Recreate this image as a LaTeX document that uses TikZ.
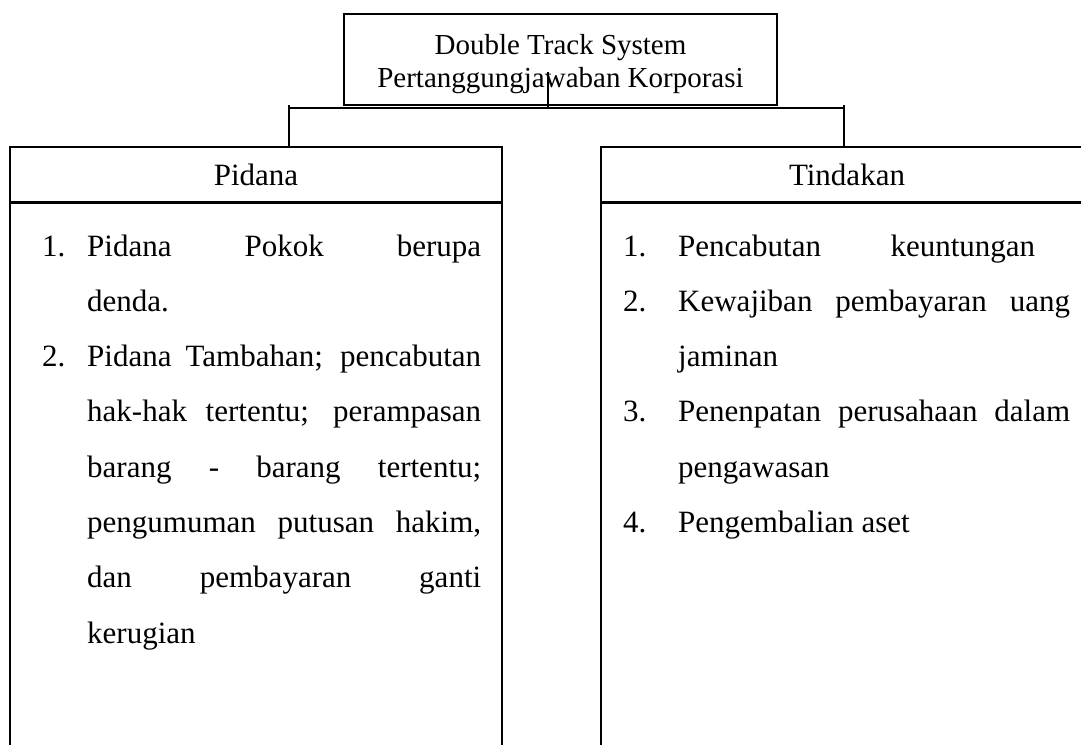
\documentclass[tikz,border=0pt]{standalone}
\usepackage{fontspec}
\setmainfont{Liberation Serif}
\usepackage{tikz}
\usetikzlibrary{positioning}

\tikzset{
  kotak/.style = {draw, line width=1.5pt, inner sep=0pt},
  garis/.style = {line width=1.5pt},
  isi/.style   = {anchor=base west, inner sep=0pt, font=\fontsize{31}{31}\selectfont},
  judul/.style = {font=\fontsize{31}{31}\selectfont}
}

\begin{document}
\begin{tikzpicture}[x=1pt, y=-1pt]
        \useasboundingbox (0,0) rectangle (1081,744);

        % kotak atas
        \node [kotak, minimum width=433pt, minimum height=91pt] (sistem) at (560.5,59.5) {};
        \node [align=center, inner sep=0pt, font=\fontsize{29}{33}\selectfont] (sistemteks) at (560.5,64)
              {Double Track System\\Pertanggungjawaban Korporasi};

        % dua kolom
        \node [kotak, judul, minimum width=492pt, minimum height=55pt] (pidana) at (256,174.5) {Pidana};
        \node [kotak, minimum width=492pt, minimum height=560pt, below=0pt of pidana] (badankiri) {};
        \node [kotak, judul, minimum width=492pt, minimum height=55pt] (tindakan) at (847,174.5) {Tindakan};
        \node [kotak, minimum width=492pt, minimum height=560pt, below=0pt of tindakan] (badankanan) {};

        % garis penghubung
        \coordinate (pangkal) at (548,72);
        \coordinate (cabang)  at (548,108);
        \coordinate (kiri)    at (289,108);
        \coordinate (kanan)   at (844,108);
        \draw [garis] (pangkal) -- (cabang);
        \draw [garis] (kiri) -- (kanan);
        \draw [garis] ([yshift=3pt]kiri) -- (kiri |- pidana.north);
        \draw [garis] ([yshift=3pt]kanan) -- (kanan |- tindakan.north);

        % isi pidana
        \node [isi] (n1) at (42,256)   {1.};
        \node [isi] (p1) at (87,256)   {\makebox[394pt][s]{Pidana Pokok berupa}};
        \node [isi] (p2) at (87,311.3) {denda.};
        \node [isi] (n2) at (42,366.6) {2.};
        \node [isi] (p3) at (87,366.6) {\makebox[394pt][s]{Pidana Tambahan; pencabutan}};
        \node [isi] (p4) at (87,421.9) {\makebox[394pt][s]{hak-hak tertentu; perampasan}};
        \node [isi] (p5) at (87,477.2) {\makebox[394pt][s]{barang - barang tertentu;}};
        \node [isi] (p6) at (87,532.5) {\makebox[394pt][s]{pengumuman putusan hakim,}};
        \node [isi] (p7) at (87,587.8) {\makebox[394pt][s]{dan pembayaran ganti}};
        \node [isi] (p8) at (87,643.1) {kerugian};

        % isi tindakan
        \node [isi] (m1) at (623,256)   {1.};
        \node [isi] (t1) at (678,256)   {\makebox[357pt][s]{Pencabutan keuntungan}};
        \node [isi] (m2) at (623,311.3) {2.};
        \node [isi] (t2) at (678,311.3) {\makebox[392pt][s]{Kewajiban pembayaran uang}};
        \node [isi] (t3) at (678,366.6) {jaminan};
        \node [isi] (m3) at (623,421.9) {3.};
        \node [isi] (t4) at (678,421.9) {\makebox[392pt][s]{Penenpatan perusahaan dalam}};
        \node [isi] (t5) at (678,477.2) {pengawasan};
        \node [isi] (m4) at (623,532.5) {4.};
        \node [isi] (t6) at (678,532.5) {Pengembalian aset};

\end{tikzpicture}
\end{document}
